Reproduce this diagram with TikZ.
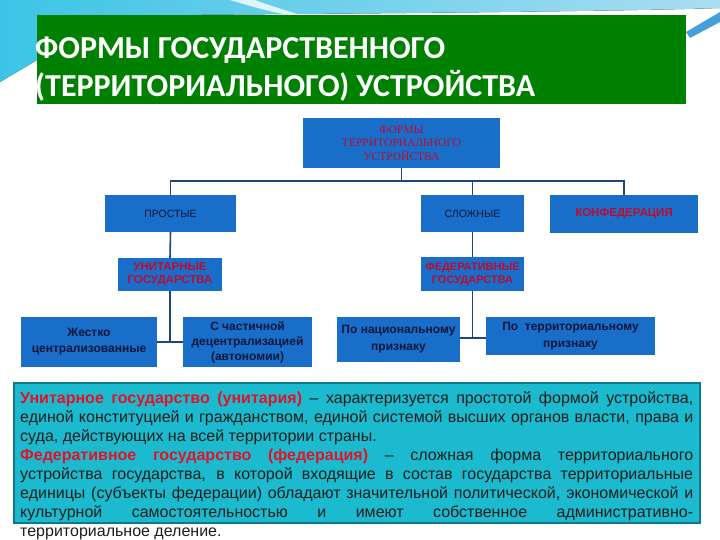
\documentclass[tikz,border=0pt]{standalone}
\usepackage{fontspec}
\setmainfont{Liberation Sans}
\newfontfamily\titlefont{Carlito}
\newfontfamily\serifru{Liberation Serif}
\usetikzlibrary{calc}
\definecolor{titlegreen}{RGB}{0,128,0}
\definecolor{boxblue}{RGB}{24,110,200}
\definecolor{linkblue}{RGB}{30,70,120}
\definecolor{cyanbox}{RGB}{28,186,206}
\definecolor{cyanedge}{RGB}{16,120,140}
\definecolor{txtred}{RGB}{226,18,40}
\definecolor{boxred}{RGB}{190,12,48}
\definecolor{navytxt}{RGB}{14,22,58}
\definecolor{bodytxt}{RGB}{30,30,30}
\definecolor{skyA}{RGB}{60,196,230}
\definecolor{skyB}{RGB}{170,222,240}
\definecolor{skyC}{RGB}{70,160,215}
\begin{document}
\begin{tikzpicture}[x=1pt,y=-1pt,
  bx/.style={fill=boxblue, inner sep=0pt, align=center},
  link/.style={draw=linkblue, line width=1.6pt},
  redhead/.style={font=\fontsize{11.5}{13}\selectfont\bfseries, text=boxred},
  navyhead/.style={font=\fontsize{10.5}{12}\selectfont, text=navytxt},
  subtxt/.style={font=\fontsize{12}{16}\selectfont\bfseries, text=navytxt},
  bodyline/.style={anchor=base west, inner sep=0pt, font=\fontsize{16}{19}\selectfont, text=bodytxt}
]
\useasboundingbox (0,0) rectangle (720,540);
\fill[white] (0,0) rectangle (720,540);
% background swoosh
\fill[left color=skyA, right color=skyB] (0,0) -- (720,0) -- (720,8) .. controls (600,12) and (300,14) .. (37,16) -- (37,60) -- (0,82) -- cycle;
\fill[white, opacity=0.8] (230,0) .. controls (250,6) and (270,12) .. (290,15) -- (300,15) .. controls (285,10) and (265,4) .. (255,0) -- cycle;
\fill[skyC] (686,32) -- (720,12) -- (720,22) -- (690,38) -- cycle;
% title
\fill[titlegreen] (37,15) rectangle (686,104);
\node[anchor=base west, inner sep=0pt, text=white, font=\titlefont\fontsize{32}{38}\selectfont\bfseries] (t1) at (35,59) {ФОРМЫ ГОСУДАРСТВЕННОГО};
\node[anchor=base west, inner sep=0pt, text=white, font=\titlefont\fontsize{32}{38}\selectfont\bfseries] (t2) at (35,97) {(ТЕРРИТОРИАЛЬНОГО) УСТРОЙСТВА};
% boxes
\node[bx, minimum width=197pt, minimum height=50pt, text=boxred, font=\serifru\fontsize{11.5}{13.5}\selectfont] (top) at (401.5,143) {ФОРМЫ\\ТЕРРИТОРИАЛЬНОГО\\УСТРОЙСТВА};
\node[bx, minimum width=131pt, minimum height=37pt, navyhead] (prost) at (170.5,213.5) {ПРОСТЫЕ};
\node[bx, minimum width=103pt, minimum height=37pt, navyhead] (slozh) at (472.5,213.5) {СЛОЖНЫЕ};
\node[bx, minimum width=148pt, minimum height=38pt, redhead] (konf) at (624,214) {КОНФЕДЕРАЦИЯ};
\node[bx, minimum width=104pt, minimum height=33pt, redhead] (unit) at (170,274.5) {УНИТАРНЫЕ\\ГОСУДАРСТВА};
\node[bx, minimum width=103pt, minimum height=34pt, redhead, font=\fontsize{11}{13}\selectfont\bfseries] (fed) at (472.5,274) {ФЕДЕРАТИВНЫЕ\\ГОСУДАРСТВА};
\node[bx, minimum width=136pt, minimum height=50pt, subtxt] (zhest) at (89,342) {Жестко\\централизованные};
\node[bx, minimum width=129pt, minimum height=50pt, subtxt, font=\fontsize{12}{15}\selectfont\bfseries] (chast) at (247.5,342) {С частичной\\децентрализацией\\(автономии)};
\node[bx, minimum width=123pt, minimum height=45pt, subtxt, font=\fontsize{12}{17}\selectfont\bfseries] (nac) at (398.5,339.5) {По национальному\\признаку};
\node[bx, minimum width=169pt, minimum height=38pt, subtxt, font=\fontsize{12}{17}\selectfont\bfseries] (terr) at (570.5,336) {По\ \ территориальному\\признаку};
% connectors
\coordinate (busL) at (170.5,181);
\coordinate (busR) at (624,181);
\coordinate (fj) at (472.5,338);
\draw[link] (prost.north) -- (busL) -- (busR) -- (konf.north);
\draw[link] (top.south) -- (top.south |- busL);
\draw[link] (slozh.north) -- (slozh.north |- busL);
\draw[link] (prost.south) -- (unit.north);
\draw[link] (slozh.south) -- (fed.north);
\draw[link] (unit.south) -- (unit.south |- zhest.east);
\draw[link] (zhest.east) -- (chast.west);
\draw[link] (fed.south) -- (fj);
\draw[link] (nac.east |- fj) -- (terr.west |- fj);
% text box
\draw[fill=cyanbox, draw=cyanedge, line width=1.2pt] (14,383) rectangle (700,523);
\node[bodyline] (l1) at (20,403.5) {\makebox[673pt][s]{\textbf{\color{txtred}Унитарное государство (унитария)} – характеризуется простотой формой устройства,}};
\node[bodyline] (l2) at (20,422.5) {\makebox[673pt][s]{единой конституцией и гражданством, единой системой высших органов власти, права и}};
\node[bodyline] (l3) at (20,441.5) {суда, действующих на всей территории страны.};
\node[bodyline] (l4) at (20,460.5) {\makebox[673pt][s]{\textbf{\color{txtred}Федеративное государство (федерация)} – сложная форма территориального}};
\node[bodyline] (l5) at (20,479.5) {\makebox[673pt][s]{устройства государства, в которой входящие в состав государства территориальные}};
\node[bodyline] (l6) at (20,498.5) {\makebox[673pt][s]{единицы (субъекты федерации) обладают значительной политической, экономической и}};
\node[bodyline] (l7) at (20,517.5) {\makebox[673pt][s]{культурной самостоятельностью и имеют собственное административно-}};
\node[bodyline] (l8) at (20,536) {территориальное деление.};
\end{tikzpicture}
\end{document}
